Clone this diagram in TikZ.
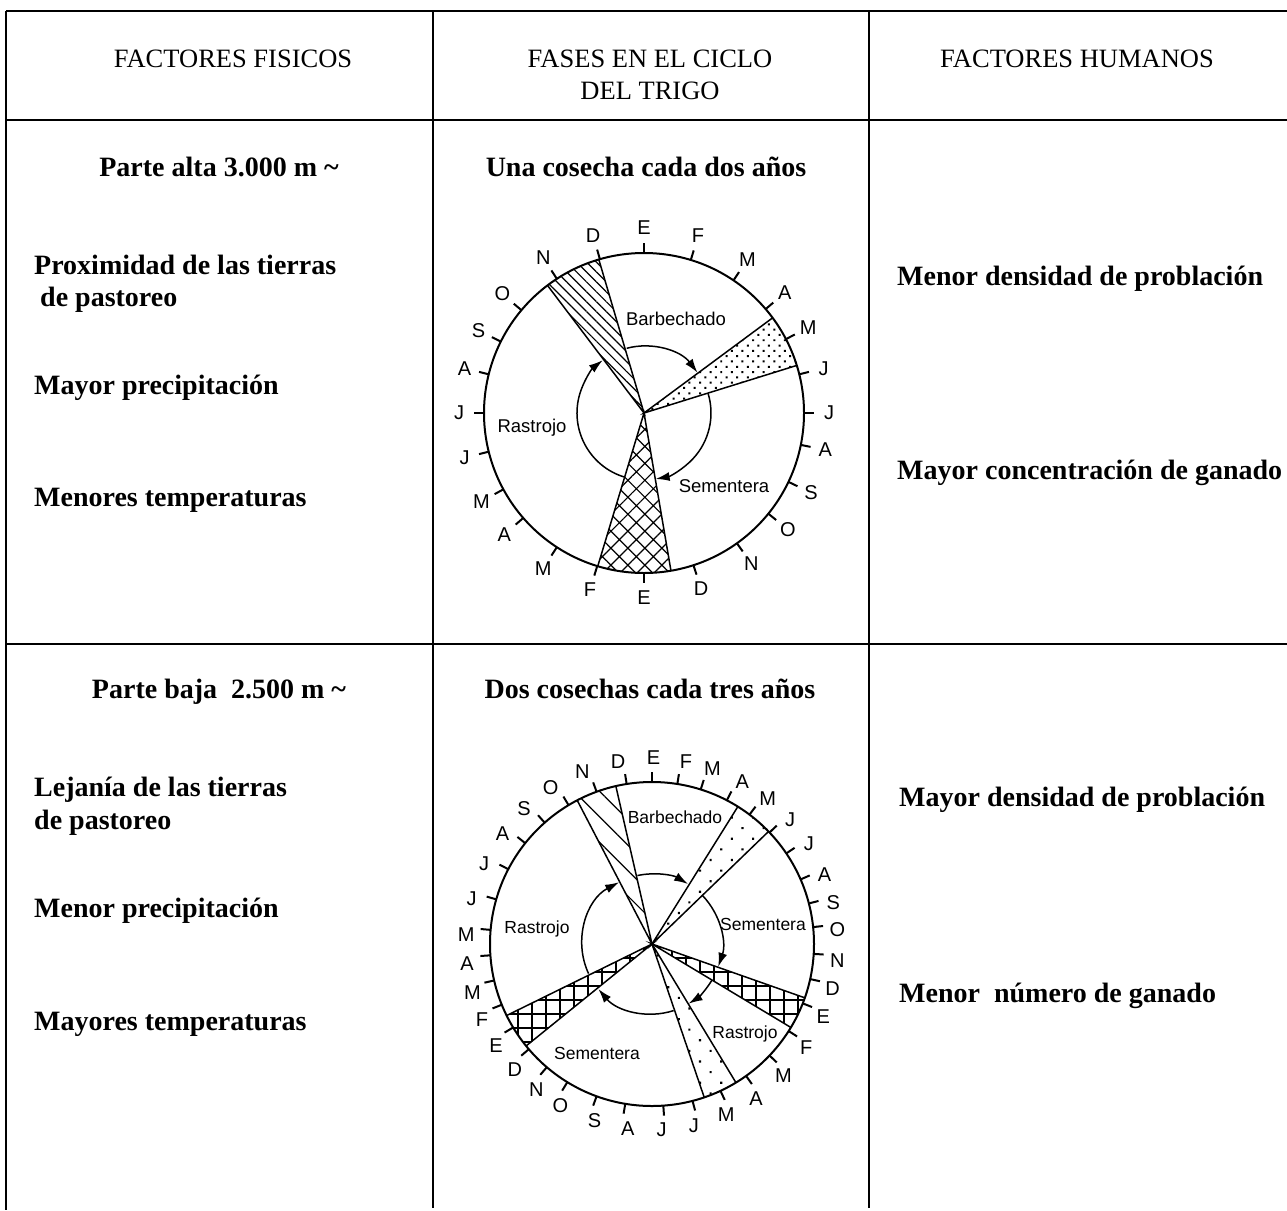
\documentclass[tikz,border=0pt]{standalone}
\usepackage{fontspec}
\setmainfont{Liberation Serif}
\newfontfamily\sansf{Liberation Sans}
\usetikzlibrary{patterns.meta,arrows.meta}
\begin{document}
\begin{tikzpicture}[x=1pt,y=-1pt,
  gridline/.style={line width=1.3pt},
  hdr/.style={font=\fontsize{26.5}{32}\selectfont, inner sep=0pt, anchor=base},
  body/.style={font=\fontsize{28}{33}\selectfont\bfseries, inner sep=0pt, anchor=base west},
  bodyc/.style={body, anchor=base},
  mon/.style={font=\sansf\fontsize{20}{20}\selectfont, inner sep=0pt},
  lbl/.style={font=\sansf\fontsize{18.5}{20}\selectfont, inner sep=0pt},
  lbltwo/.style={font=\sansf\fontsize{17.5}{20}\selectfont, inner sep=0pt},
  rim/.style={line width=2pt},
  wedgeedge/.style={line width=1.5pt},
  cyc/.style={line width=1.5pt, -{Latex[length=14pt,width=9pt]}},
]
\useasboundingbox (0,0) rectangle (1287,1210);
\fill[white] (0,0) rectangle (1287,1210);

% ---------- table ----------
\draw[gridline] (6,11) -- (1287,11);
\draw[gridline] (6,120) -- (1287,120);
\draw[gridline] (6,644) -- (1287,644);
\draw[gridline] (6,11) -- (6,1210);
\draw[gridline] (433,11) -- (433,1208);
\draw[gridline] (869,11) -- (869,1208);

% ---------- header ----------
\node[hdr] (h1) at (233,67) {FACTORES FISICOS};
\node[hdr] (h2a) at (650,67) {FASES EN EL CICLO};
\node[hdr] (h2b) at (650,99) {DEL TRIGO};
\node[hdr] (h3) at (1077,67) {FACTORES HUMANOS};

% ---------- row 1 ----------
\node[bodyc] (r1a) at (219,176) {Parte alta 3.000 m \textasciitilde};
\node[bodyc] (r1b) at (646,176) {Una cosecha cada dos años};
\node[body] (r1c) at (34,274) {Proximidad de las tierras};
\node[body] (r1d) at (40,306) {de pastoreo};
\node[body] (r1e) at (34,394) {Mayor precipitación};
\node[body] (r1f) at (34,506) {Menores temperaturas};
\node[body] (r1g) at (897,285) {Menor densidad de problación};
\node[body] (r1h) at (897,479) {Mayor concentración de ganado};

% ---------- row 2 ----------
\node[bodyc] (r2a) at (219,698) {Parte baja\ \ 2.500 m \textasciitilde};
\node[bodyc] (r2b) at (650,698) {Dos cosechas cada tres años};
\node[body] (r2c) at (34,796) {Lejanía de las tierras};
\node[body] (r2d) at (34,829) {de pastoreo};
\node[body] (r2e) at (34,917) {Menor precipitación};
\node[body] (r2f) at (34,1030) {Mayores temperaturas};
\node[body] (r2g) at (899,806) {Mayor densidad de problación};
\node[body] (r2h) at (899,1002) {Menor\ \ número de ganado};

% ---------- circle 1 ----------
\begin{scope}[shift={(644,413)}, yscale=-1]
  \fill[pattern={Lines[angle=-45,distance=7pt,line width=1.2pt]}]
    (0,0) -- (106.4:160) arc[start angle=106.4,end angle=127.1,radius=160] -- cycle;
  \fill[pattern={Dots[angle=45,distance=7.5pt,radius=1.4pt]}]
    (0,0) -- (17.3:160) arc[start angle=17.3,end angle=36.5,radius=160] -- cycle;
  \fill[pattern={Hatch[angle=45,distance=12pt,line width=1.2pt]}]
    (0,0) -- (253.2:160) arc[start angle=253.2,end angle=279.7,radius=160] -- cycle;
  \draw[wedgeedge] (106.4:160) -- (0,0) -- (127.1:160);
  \draw[wedgeedge] (17.3:160) -- (0,0) -- (36.5:160);
  \draw[wedgeedge] (253.2:160) -- (0,0) -- (279.7:160);
  \draw[rim] (0,0) circle[radius=160];
  \foreach \a/\m [count=\i] in {90/E,73/F,56/M,40.5/A,27.5/M,14/J,0/J,-11.5/A,-25.5/S,-39/O,-54.5/N,-72/D,-90/E,-107/F,-123/M,-139/A,-151.5/M,-166/J,180/J,166/A,153.5/S,140/O,123/N,106/D}{
    \draw[rim] (\a:160) -- (\a:170);
    \node[mon] (ca\i) at (\a:185) {\m};
  }
  \draw[cyc] (105:67) arc[start angle=105,end angle=37,radius=67];
  \draw[cyc] (17:67) arc[start angle=17,end angle=-80,radius=67];
  \draw[cyc] (253:67) arc[start angle=253,end angle=128,radius=67];
  \node[lbl] (b1) at (32,94) {Barbechado};
  \node[lbl] (ra1) at (-112,-15) {Rastrojo};
  \node[lbl] (se1) at (80,-73) {Sementera};
\end{scope}

% ---------- circle 2 ----------
\begin{scope}[shift={(652,944)}, yscale=-1]
  \fill[pattern={Lines[angle=-45,distance=18pt,line width=1.2pt]}]
    (0,0) -- (102.9:162) arc[start angle=102.9,end angle=117.5,radius=162] -- cycle;
  \fill[pattern={Dots[angle=45,distance=15pt,radius=1.5pt]}]
    (0,0) -- (44:162) arc[start angle=44,end angle=58,radius=162] -- cycle;
  \fill[pattern={Hatch[angle=0,distance=14pt,line width=1.2pt]}]
    (0,0) -- (-31:162) arc[start angle=-31,end angle=-19.4,radius=162] -- cycle;
  \fill[pattern={Dots[angle=45,distance=15pt,radius=1.5pt]}]
    (0,0) -- (-71.2:162) arc[start angle=-71.2,end angle=-58.8,radius=162] -- cycle;
  \fill[pattern={Hatch[angle=0,distance=14pt,line width=1.2pt]}]
    (0,0) -- (206.2:162) arc[start angle=206.2,end angle=219,radius=162] -- cycle;
  \draw[wedgeedge] (102.9:162) -- (0,0) -- (117.5:162);
  \draw[wedgeedge] (44:162) -- (0,0) -- (58:162);
  \draw[wedgeedge] (-31:162) -- (0,0) -- (-19.4:162);
  \draw[wedgeedge] (-71.2:162) -- (0,0) -- (-58.8:162);
  \draw[wedgeedge] (206.2:162) -- (0,0) -- (219:162);
  \draw[rim] (0,0) circle[radius=162];
  \foreach \a/\t/\m [count=\i] in {89.5/90/E,79.5/81/F,71/72.5/M,61/62.5/A,51.5/53/M,42/43.5/J,32.5/34/J,22/23.5/A,13/14.5/S,4.5/6/O,-5/-3.5/N,-14/-12.5/D,-23/-21.5/E,-34/-32.5/F,-45/-43.5/M,-56/-54.5/A,-66.5/-65/M,-77/-75.5/J,-87/-86/J,-97.5/-99.5/A,-108/-110/S,-119.5/-121.5/O,-128.5/-130.5/N,-137.5/-139.5/D,-147/-149/E,-156/-158/F,-165/-167/M,-174/-176/A,177/175/M,166/164/J,154.5/152.5/J,143.5/141.5/A,133.5/131.5/S,123/121/O,112/110/N,100.5/99/D}{
    \draw[rim] (\t:162) -- (\t:172);
    \node[mon] (cb\i) at (\a:186) {\m};
  }
  \draw[cyc] (102:70) arc[start angle=102,end angle=59,radius=70];
  \draw[cyc] (44:70) arc[start angle=44,end angle=-19,radius=70];
  \draw[cyc] (-31:70) arc[start angle=-31,end angle=-58.5,radius=70];
  \draw[cyc] (-72:70) arc[start angle=-72,end angle=-140,radius=70];
  \draw[cyc] (205:70) arc[start angle=205,end angle=118,radius=70];
  \node[lbltwo] (b2) at (23,127) {Barbechado};
  \node[lbltwo] (ra2) at (-115,15) {Rastrojo};
  \node[lbltwo] (se2) at (111,20) {Sementera};
  \node[lbltwo] (se3) at (-55,-109) {Sementera};
  \node[lbltwo] (ra3) at (93,-90) {Rastrojo};
\end{scope}
\end{tikzpicture}
\end{document}
